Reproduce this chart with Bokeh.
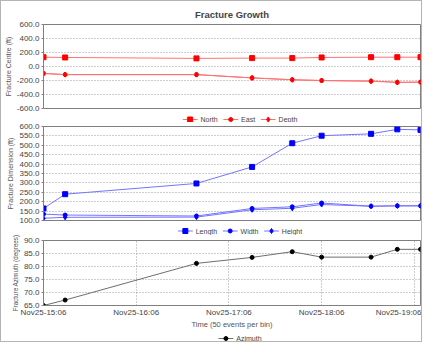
from datetime import datetime
from bokeh.plotting import figure
from bokeh.layouts import column
from bokeh.models import (FixedTicker, PrintfTickFormatter, DatetimeTickFormatter,
                          Range1d, ColumnDataSource)
from bokeh.core.properties import value
from bokeh.embed import file_html
from bokeh.resources import INLINE

# ---- data ----
times = ["2015-11-25 15:06", "2015-11-25 15:20", "2015-11-25 16:45", "2015-11-25 17:21",
         "2015-11-25 17:47", "2015-11-25 18:06", "2015-11-25 18:38", "2015-11-25 18:55",
         "2015-11-25 19:10"]
north = [133, 129, 116, 120, 120, 129, 133, 133, 133]
east = [-99, -116, -116, -163, -189, -201, -210, -227, -223]
depth = [-99, -116, -116, -163, -190, -200, -208, -225, -224]
length = [164, 240, 297, 385, 511, 551, 561, 585, 582]
width = [134, 129, 124, 164, 173, 193, 176, 178, 178]
height = [112, 117, 118, 157, 165, 185, 176, 178, 178]
azimuth = [65.0, 67.1, 81.2, 83.5, 85.7, 83.6, 83.6, 86.6, 86.6]
centre_names = ["North", "East", "Depth"]
dim_names = ["Length", "Width", "Height"]
az_names = ["Azimuth"]
hour_ticks = ["2015-11-25 15:06", "2015-11-25 16:06", "2015-11-25 17:06",
              "2015-11-25 18:06", "2015-11-25 19:06"]
centre_ticks = [-600, -400, -200, 0, 200, 400, 600]
dim_ticks = [100, 150, 200, 250, 300, 350, 400, 450, 500, 550, 600]
az_ticks = [65, 70, 75, 80, 85, 90]

FONT = "Liberation Sans"
EPOCH = datetime(1970, 1, 1)
W = 420
MBL, MBR = 37, 1
FW = W - MBL - MBR

CW = {"N": .722, "E": .667, "D": .722, "L": .556, "W": .944, "H": .722, "A": .667,
      "o": .556, "r": .333, "t": .278, "h": .556, "a": .556, "s": .5, "e": .556,
      "p": .556, "n": .556, "g": .556, "i": .222, "d": .556, "z": .5, "m": .833,
      "u": .556}


def text_w(s, fs):
    return sum(CW.get(c, .556) for c in s) * fs


def to_ms(s):
    return (datetime.strptime(s, "%Y-%m-%d %H:%M") - EPOCH).total_seconds() * 1000.0


src = ColumnDataSource(dict(t=[to_ms(s) for s in times], north=north, east=east, depth=depth,
                            length=length, width=width, height=height, azimuth=azimuth))
xr = Range1d(start=to_ms(times[0]), end=to_ms(times[-1]))


def make_fig(h, y0, y1, yticks, ylabel, mbt, mbb, lab_fs="7px", show_x=False):
    p = figure(width=W, height=h, x_axis_type="datetime", x_range=xr,
               y_range=Range1d(y0, y1), output_backend="svg", toolbar_location=None,
               x_axis_location="below" if show_x else None,
               min_border_left=MBL, min_border_right=MBR, min_border_top=mbt,
               min_border_bottom=mbb)
    p.outline_line_color = "#808080"
    yt = FixedTicker(ticks=yticks)
    p.yaxis.ticker = yt
    p.ygrid.ticker = yt
    p.yaxis.formatter = PrintfTickFormatter(format="%.1f")
    p.yaxis.axis_label = ylabel
    p.yaxis.axis_label_text_font = FONT
    p.yaxis.axis_label_text_font_size = lab_fs
    p.yaxis.axis_label_text_font_style = "normal"
    p.yaxis.axis_label_text_color = "#555555"
    p.yaxis.axis_label_standoff = 2
    p.yaxis.major_label_text_font = FONT
    p.yaxis.major_label_text_font_size = "8px"
    p.yaxis.major_label_text_color = "#444444"
    p.yaxis.major_label_standoff = 2
    p.yaxis.major_tick_out = 2
    p.yaxis.major_tick_in = 0
    p.yaxis.minor_tick_line_color = None
    p.yaxis.axis_line_color = "#808080"
    p.yaxis.major_tick_line_color = "#808080"
    p.ygrid.grid_line_color = "#9a9a9a"
    p.ygrid.grid_line_dash = "1 2"
    if show_x:
        xt = FixedTicker(ticks=[to_ms(s) for s in hour_ticks])
        p.xaxis.ticker = xt
        p.xgrid.ticker = xt
        fmt = "%b%d-%H:%M"
        p.xaxis.formatter = DatetimeTickFormatter(
            microseconds=fmt, milliseconds=fmt, seconds=fmt, minsec=fmt, minutes=fmt,
            hourmin=fmt, hours=fmt, days=fmt, months=fmt, years=fmt)
        p.xaxis.major_label_text_font = FONT
        p.xaxis.major_label_text_font_size = "8px"
        p.xaxis.major_label_text_color = "#444444"
        p.xaxis.major_label_standoff = 2
        p.xaxis.major_tick_out = 0
        p.xaxis.major_tick_in = 0
        p.xaxis.minor_tick_line_color = None
        p.xaxis.axis_line_color = "#808080"
        p.xaxis.axis_label = "Time (50 events per bin)"
        p.xaxis.axis_label_text_font = FONT
        p.xaxis.axis_label_text_font_size = "7.5px"
        p.xaxis.axis_label_text_font_style = "normal"
        p.xaxis.axis_label_text_color = "#555555"
        p.xaxis.axis_label_standoff = 0
        p.xgrid.grid_line_color = "#9a9a9a"
        p.xgrid.grid_line_dash = "1 2"
    else:
        p.xgrid.visible = False
    return p


def legend_fig(h, names, markers, sizes, lcol, mcol, shift=8, fs=7.0):
    f = figure(width=W, height=h, x_range=Range1d(0, FW), y_range=Range1d(0, h),
               output_backend="svg", toolbar_location=None, x_axis_location=None,
               y_axis_location=None, min_border_left=MBL, min_border_right=MBR,
               min_border_top=0, min_border_bottom=0)
    f.outline_line_color = None
    f.grid.visible = False
    gw, gap, sp = 15, 3, 6
    widths = [text_w(n, fs) for n in names]
    total = sum(gw + gap + w for w in widths) + sp * (len(names) - 1)
    x = FW / 2.0 + shift - total / 2.0
    ym = h / 2.0
    for n, mk, sz, w in zip(names, markers, sizes, widths):
        f.segment(x0=[x], y0=[ym], x1=[x + gw], y1=[ym], line_color=lcol, line_width=1)
        f.scatter(x=[x + gw / 2.0], y=[ym], marker=mk, size=sz, fill_color=mcol, line_color=mcol)
        f.text(x=[x + gw + gap], y=[ym], text=[n], text_font=value(FONT),
               text_font_size=value("%.1fpx" % fs), text_baseline="middle",
               text_align="left", text_color="#444444")
        x += gw + gap + w + sp
    return f


RL, RM = "#ff7272", "#ff0000"
BL, BM = "#7474ff", "#0000ff"
GL, GM = "#6e6e6e", "#000000"

# ---- panel 1 ----
p1 = make_fig(111, -600, 600, centre_ticks, "Fracture Centre (ft)", 16, 4)
p1.title.text = "Fracture Growth"
p1.title.align = "center"
p1.title.text_font = FONT
p1.title.text_font_size = "9.5px"
p1.title.text_font_style = "bold"
for col, mk, sz in [("north", "square", 5), ("east", "circle", 4), ("depth", "diamond", 5)]:
    p1.line("t", col, source=src, line_color=RL, line_width=1)
    p1.scatter("t", col, source=src, marker=mk, size=sz, fill_color=RM, line_color=RM)
l1 = legend_fig(10, centre_names, ["square", "circle", "diamond"], [5, 4, 5], RL, RM)

# ---- panel 2 ----
p2 = make_fig(102, 100, 600, dim_ticks, "Fracture Dimension (ft)", 4, 4)
for col, mk, sz in [("length", "square", 5), ("width", "circle", 4), ("height", "diamond", 5)]:
    p2.line("t", col, source=src, line_color=BL, line_width=1)
    p2.scatter("t", col, source=src, marker=mk, size=sz, fill_color=BM, line_color=BM)
l2 = legend_fig(11, dim_names, ["square", "circle", "diamond"], [5, 4, 5], BL, BM)

# ---- panel 3 ----
p3 = make_fig(96, 65, 90, az_ticks, "Fracture Azimuth (degrees)", 5, 22, lab_fs="6.3px",
              show_x=True)
p3.line("t", "azimuth", source=src, line_color=GL, line_width=1)
p3.scatter("t", "azimuth", source=src, marker="circle", size=4, fill_color=GM, line_color=GM)
l3 = legend_fig(10, az_names, ["circle"], [4], GL, GM)

layout = column(p1, l1, p2, l2, p3, l3, spacing=0,
                styles={"border": "1px solid #b4b4b4"})

open("out.html", "w").write(file_html(layout, INLINE))
